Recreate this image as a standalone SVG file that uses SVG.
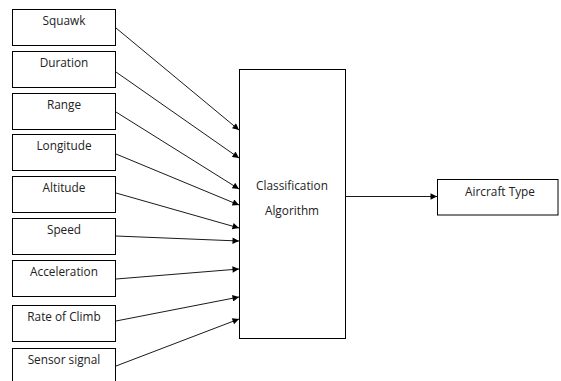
<svg xmlns="http://www.w3.org/2000/svg" width="561" height="381" viewBox="0 0 561 381">
<style>
.box{fill:#fff;stroke:#000;stroke-width:1}
.t{font-family:"Open Sans","Liberation Sans",sans-serif;font-size:11.8px;fill:#222;text-anchor:middle}
.c{stroke:#000;stroke-width:0.9;fill:none;marker-end:url(#ah)}
</style>
<defs>
<marker id="ah" viewBox="0 0 10 10" refX="10" refY="5" markerWidth="8" markerHeight="6.5" markerUnits="userSpaceOnUse" orient="auto">
<path d="M0,0 L10,5 L0,10 z" fill="#000"/>
</marker>
</defs>
<rect width="561" height="381" fill="#fff"/>
<g id="squawk"><rect class="box" x="12.5" y="9.5" width="103" height="36"/><text class="t" x="64" y="25">Squawk</text></g>
<g id="duration"><rect class="box" x="12.5" y="51.5" width="103" height="36"/><text class="t" x="64" y="67">Duration</text></g>
<g id="range"><rect class="box" x="12.5" y="93.5" width="103" height="36"/><text class="t" x="64" y="109">Range</text></g>
<g id="longitude"><rect class="box" x="12.5" y="134.5" width="103" height="36"/><text class="t" x="64" y="150">Longitude</text></g>
<g id="altitude"><rect class="box" x="12.5" y="176.5" width="103" height="36"/><text class="t" x="64" y="192">Altitude</text></g>
<g id="speed"><rect class="box" x="12.5" y="218.5" width="103" height="36"/><text class="t" x="64" y="234">Speed</text></g>
<g id="acceleration"><rect class="box" x="12.5" y="260.5" width="103" height="36"/><text class="t" x="64" y="276">Acceleration</text></g>
<g id="rate-of-climb"><rect class="box" x="12.5" y="305.5" width="103" height="36"/><text class="t" x="64" y="321">Rate of Climb</text></g>
<g id="sensor-signal"><rect class="box" x="12.5" y="348.5" width="103" height="36"/><text class="t" x="64" y="364">Sensor signal</text></g>
<g id="classification"><rect class="box" x="239.5" y="69.5" width="106" height="269"/><text class="t" x="292" y="190">Classification</text><text class="t" x="292" y="215">Algorithm</text></g>
<g id="aircraft-type"><rect class="box" x="437.5" y="179.5" width="120.5" height="35.5"/><text class="t" x="500" y="196">Aircraft Type</text></g>
<g id="connectors">
<line class="c" x1="116" y1="28" x2="239" y2="130"/>
<line class="c" x1="116" y1="72" x2="239" y2="158"/>
<line class="c" x1="116" y1="112" x2="239" y2="189"/>
<line class="c" x1="116" y1="154" x2="239" y2="205"/>
<line class="c" x1="116" y1="193" x2="239" y2="228"/>
<line class="c" x1="116" y1="236" x2="239" y2="241"/>
<line class="c" x1="116" y1="279" x2="239" y2="269"/>
<line class="c" x1="116" y1="321" x2="239" y2="297"/>
<line class="c" x1="116" y1="366" x2="239" y2="319"/>
<line class="c" x1="346" y1="196.5" x2="437" y2="196.5"/>
</g>
</svg>
